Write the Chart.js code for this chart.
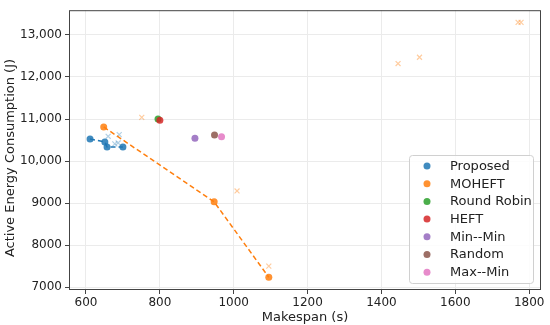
<!DOCTYPE html>
<html>
<head>
<meta charset="utf-8">
<script src="https://cdn.jsdelivr.net/npm/chart.js@4.4.0/dist/chart.umd.min.js"></script>
<style>
  html, body { margin: 0; padding: 0; background: #fff; }
  #wrap { width: 550px; height: 325px; }
</style>
</head>
<body>
<div id="wrap"><canvas id="chart"></canvas></div>
<script>
// Data
const proposedX = [611, 651, 657, 700];
const proposedY = [10525, 10454, 10336, 10336];
const moheftX = [648, 947, 1095];
const moheftY = [10810, 9028, 7232];
const roundRobinX = [795];
const roundRobinY = [11000];
const heftX = [800];
const heftY = [10970];
const minMinX = [895];
const minMinY = [10540];
const randomX = [948];
const randomY = [10620];
const maxMinX = [967];
const maxMinY = [10580];
// faint cross markers (not in legend)
const proposedRunsX = [660, 690, 678, 687];
const proposedRunsY = [10589, 10629, 10407, 10430];
const moheftRunsX = [751, 1009, 1095, 1445, 1503, 1770, 1778];
const moheftRunsY = [11038, 9288, 7499, 12320, 12470, 13300, 13300];

const xTicks = [600, 800, 1000, 1200, 1400, 1600, 1800];
const yTicks = [7000, 8000, 9000, 10000, 11000, 12000, 13000];
const legendLabels = ['Proposed', 'MOHEFT', 'Round Robin', 'HEFT', 'Min--Min', 'Random', 'Max--Min'];
const colors = ['rgba(31,119,180,0.85)', 'rgba(255,127,14,0.85)', 'rgba(44,160,44,0.85)',
    'rgba(214,39,40,0.85)', 'rgba(148,103,189,0.85)', 'rgba(140,86,75,0.85)', 'rgba(227,119,194,0.85)'];
const yTitle = 'Active Energy Consumption (J)';

function pts(xs, ys) {
    return xs.map((x, i) => ({ x: x, y: ys[i] }));
}

function dots(label, xs, ys, color, order) {
    return {
        label: label,
        data: pts(xs, ys),
        showLine: false,
        pointRadius: 3.5,
        pointHoverRadius: 3.5,
        pointBackgroundColor: color,
        pointBorderColor: color,
        pointBorderWidth: 0,
        order: order
    };
}

const datasets = [
    {
        label: 'Proposed',
        data: pts(proposedX, proposedY),
        showLine: true,
        borderColor: '#1f77b4',
        borderWidth: 1.5,
        borderDash: [5, 3],
        pointRadius: 3.5,
        pointBackgroundColor: colors[0],
        pointBorderWidth: 0,
        order: 3
    },
    {
        label: 'MOHEFT',
        data: pts(moheftX, moheftY),
        showLine: true,
        borderColor: '#ff7f0e',
        borderWidth: 1.5,
        borderDash: [5, 3],
        pointRadius: 3.5,
        pointBackgroundColor: colors[1],
        pointBorderWidth: 0,
        order: 2
    },
    dots('Round Robin', roundRobinX, roundRobinY, colors[2], 1),
    dots('HEFT', heftX, heftY, colors[3], 0),
    dots('Min--Min', minMinX, minMinY, colors[4], 0),
    dots('Random', randomX, randomY, colors[5], 0),
    dots('Max--Min', maxMinX, maxMinY, colors[6], 0),
    {
        label: 'proposed runs',
        data: pts(proposedRunsX, proposedRunsY),
        showLine: false,
        pointStyle: 'crossRot',
        pointRadius: 3.5,
        pointBorderColor: 'rgba(31, 119, 180, 0.35)',
        pointBorderWidth: 1.2,
        order: 5
    },
    {
        label: 'moheft runs',
        data: pts(moheftRunsX, moheftRunsY),
        showLine: false,
        pointStyle: 'crossRot',
        pointRadius: 3.5,
        pointBorderColor: 'rgba(255, 127, 14, 0.4)',
        pointBorderWidth: 1.2,
        order: 5
    }
];

// box around the plot, y title, legend inside the plot
const framePlugin = {
    id: 'frame',
    afterDatasetsDraw(chart) {
        const ctx = chart.ctx;
        const a = chart.chartArea;
        ctx.save();
        ctx.strokeStyle = '#444';
        ctx.lineWidth = 1;
        ctx.strokeRect(a.left + 0.5, a.top + 0.5, a.right - a.left - 1, a.bottom - a.top - 1);

        // y axis title
        ctx.save();
        ctx.translate(11, 158);
        ctx.rotate(-Math.PI / 2);
        ctx.font = '13px "DejaVu Sans"';
        ctx.fillStyle = '#222';
        ctx.textAlign = 'center';
        ctx.textBaseline = 'middle';
        ctx.fillText(yTitle, 0, 0);
        ctx.restore();

        // legend
        const bx = 409.5, by = 155.5, bw = 124, bh = 128;
        ctx.fillStyle = 'rgba(255,255,255,0.85)';
        ctx.strokeStyle = '#d0d0d0';
        ctx.beginPath();
        ctx.roundRect(bx, by, bw, bh, 3);
        ctx.fill();
        ctx.stroke();
        ctx.font = '13px "DejaVu Sans"';
        ctx.textBaseline = 'middle';
        legendLabels.forEach((lab, i) => {
            const y = 166 + i * 17.7;
            ctx.fillStyle = colors[i];
            ctx.beginPath();
            ctx.arc(427, y, 3.5, 0, Math.PI * 2);
            ctx.fill();
            ctx.fillStyle = '#222';
            ctx.fillText(lab, 450, y + 0.5);
        });
        ctx.restore();
    }
};

new Chart(document.getElementById('chart'), {
    type: 'scatter',
    data: { datasets: datasets },
    options: {
        responsive: true,
        maintainAspectRatio: false,
        animation: false,
        events: [],
        layout: { padding: { top: 8, right: 9, left: 0, bottom: 0 } },
        plugins: {
            legend: { display: false },
            tooltip: { enabled: false }
        },
        scales: {
            x: {
                type: 'linear',
                min: 554,
                max: 1832,
                afterBuildTicks: axis => { axis.ticks = xTicks.map(v => ({ value: v })); },
                afterFit: axis => { axis.height = 35; },
                grid: { color: '#ebebeb', tickColor: '#444', tickLength: 4 },
                border: { display: false },
                ticks: {
                    color: '#222',
                    font: { family: 'DejaVu Sans', size: 12 },
                    padding: 2,
                    maxRotation: 0,
                    callback: v => String(v)
                },
                title: {
                    display: true,
                    text: 'Makespan (s)',
                    color: '#222',
                    font: { family: 'DejaVu Sans', size: 13 },
                    padding: { top: 0, bottom: 0 }
                }
            },
            y: {
                type: 'linear',
                min: 6930,
                max: 13590,
                afterBuildTicks: axis => { axis.ticks = yTicks.map(v => ({ value: v })); },
                afterFit: axis => { axis.width = 69; },
                grid: { color: '#ebebeb', tickColor: '#444', tickLength: 4 },
                border: { display: false },
                ticks: {
                    color: '#222',
                    font: { family: 'DejaVu Sans', size: 12 },
                    padding: 3,
                    callback: v => v >= 10000 ? v.toLocaleString('en-US') : String(v)
                },
                title: { display: false }
            }
        }
    },
    plugins: [framePlugin]
});
</script>
</body>
</html>
